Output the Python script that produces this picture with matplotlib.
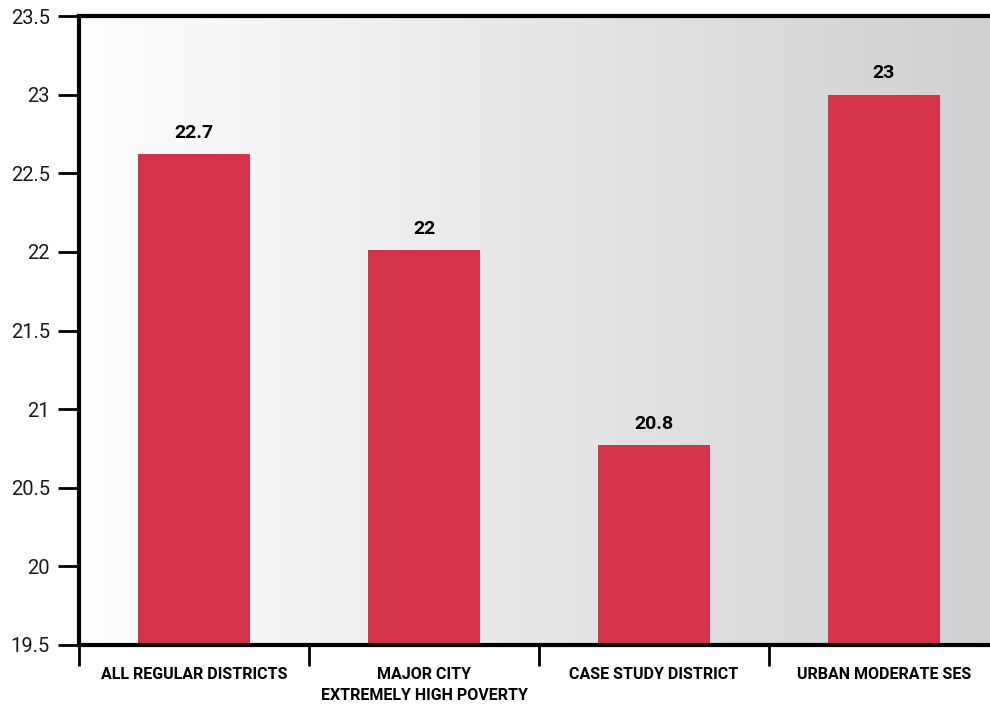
import numpy as np
import matplotlib.pyplot as plt
from matplotlib.colors import LinearSegmentedColormap

# data
categories = ['ALL REGULAR DISTRICTS', 'MAJOR CITY\nEXTREMELY HIGH POVERTY',
              'CASE STUDY DISTRICT', 'URBAN MODERATE SES']
values = [22.62, 22.01, 20.77, 23.0]
value_labels = ['22.7', '22', '20.8', '23']
yticks = [19.5, 20, 20.5, 21, 21.5, 22, 22.5, 23, 23.5]

plt.rcParams['font.family'] = ['Roboto', 'DejaVu Sans']

fig = plt.figure(figsize=(9.9, 7.06), dpi=100)
ax = fig.add_axes([79 / 990, 61 / 706, 920 / 990, 629 / 706])

x = np.arange(len(categories))
ax.set_xlim(-0.5, len(categories) - 0.5)
ax.set_ylim(19.5, 23.5)

# gradient background
cmap = LinearSegmentedColormap.from_list('bg', ['#fefefe', '#e6e7e9', '#cfd0d2'])
grad = np.linspace(0, 1, 256).reshape(1, -1)
ax.imshow(grad, cmap=cmap, aspect='auto', extent=[-0.5, 3.5, 19.5, 23.5], zorder=0)

ax.bar(x, values, width=0.49, color='#d5334a', zorder=2)
for xi, v, lab in zip(x, values, value_labels):
    ax.annotate(lab, (xi, v), xytext=(0, 9), textcoords='offset points',
                ha='center', va='bottom', fontsize=14, fontweight='bold', color='black')

# axes style
for s in ['left', 'top', 'bottom']:
    ax.spines[s].set_linewidth(3)
    ax.spines[s].set_color('black')
ax.spines['right'].set_visible(False)

ax.set_yticks(yticks)
ax.set_yticklabels([('%g' % t) for t in yticks], fontsize=14.5, color='#1a1a1a')
ax.tick_params(axis='y', length=15, width=2, pad=6, direction='out')

ax.set_xticks(x)
ax.set_xticklabels(categories, fontsize=11.5, fontweight='bold', linespacing=1.5)
ax.set_xticks(np.arange(-0.5, len(categories) + 0.5, 1), minor=True)
ax.tick_params(axis='x', which='major', length=0, pad=16)
ax.tick_params(axis='x', which='minor', length=15, width=2, direction='out')

fig.savefig('out.png', dpi=100)
